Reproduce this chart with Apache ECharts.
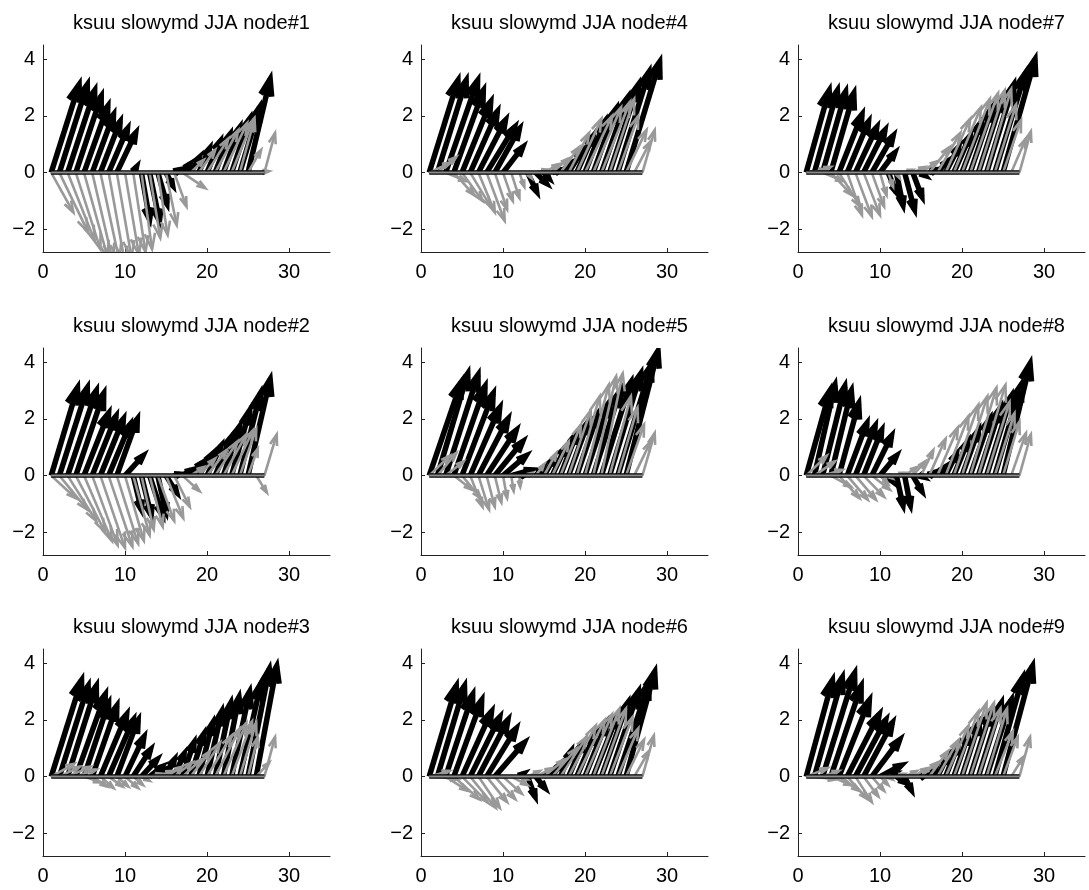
<!DOCTYPE html>
<html>
<head>
<meta charset="utf-8">
<script src="https://cdn.jsdelivr.net/npm/echarts@6/dist/echarts.min.js"></script>
<style>
html, body { margin: 0; padding: 0; background: #fff; }
#chart { width: 1089px; height: 890px; }
</style>
</head>
<body>
<div id="chart"></div>
<script>
// arrow tails sit on y=0 at these positions
var positions = [1,2,3,4,5,6,7,8,9,10,11,12,13,14,15,16,17,18,19,20,21,22,23,24,25,26,27];
var xTicks = [0, 10, 20, 30];
var yTicks = [-2, 0, 2, 4];
var titles = ['ksuu slowymd JJA node#1','ksuu slowymd JJA node#2','ksuu slowymd JJA node#3',
              'ksuu slowymd JJA node#4','ksuu slowymd JJA node#5','ksuu slowymd JJA node#6',
              'ksuu slowymd JJA node#7','ksuu slowymd JJA node#8','ksuu slowymd JJA node#9'];

// node#1
var blackU1 = [3.4,3.4,3.3,3.1,2.9,2.6,2.4,2.3,2.3,0,0.4,1.0,1.2,1.1,0.8,0.6,0.9,1.1,1.3,1.6,1.8,2.0,2.2,2.4,2.7,0,0];
var blackV1 = [3.1,3.1,2.9,2.7,2.35,2.05,1.8,1.55,1.4,0,0.2,-1.65,-1.7,-1.1,-0.45,0.1,0.3,0.55,0.85,1.1,1.35,1.6,1.9,2.3,3.3,0,0];
var grayU1 = [2.7,3.5,3.3,3.0,2.9,2.5,2.3,2.0,1.8,1.7,1.5,1.3,1.3,1.2,1.3,1.5,2.8,1.6,2.0,2.6,2.8,2.9,2.7,1.8,1.6,1.6,1.3];
var grayV1 = [-1.4,-2.1,-2.4,-2.7,-3.0,-3.1,-3.1,-3.2,-3.0,-2.9,-2.8,-2.7,-2.3,-2.2,-1.85,-1.2,-0.55,0.45,0.8,1.2,1.5,1.75,1.9,1.9,0.8,0.05,1.4];
// node#2
var blackU2 = [3.2,3.4,3.5,3.4,3.0,2.9,2.8,2.6,2.5,2.2,1.0,1.2,1.6,1.0,1.3,0.7,1.1,1.4,1.6,1.7,1.9,2.0,2.2,2.5,2.7,0,0];
var blackV2 = [3.1,3.1,3.0,2.9,2.2,2.1,2.0,1.8,2.0,0.7,-1.2,-1.4,-1.4,-1.3,-0.6,0.05,0.2,0.45,0.75,1.05,1.35,1.75,2.3,2.9,3.4,0,0];
var grayU2 = [3.0,3.4,3.5,3.6,3.4,3.1,3.0,2.9,2.6,2.3,2.0,1.5,1.6,2.0,2.1,1.9,2.1,1.6,2.0,2.4,2.7,2.8,2.6,2.0,1.2,1.3,1.5];
var grayV2 = [-0.8,-1.2,-1.6,-2.0,-2.3,-2.45,-2.55,-2.5,-2.4,-2.3,-2.1,-1.9,-1.8,-1.6,-1.5,-1.1,-0.55,0.3,0.6,0.9,1.2,1.45,1.6,1.65,0.95,-0.6,1.45];
// node#3
var blackU3 = [3.7,3.5,3.5,3.6,3.0,3.0,3.2,3.0,2.6,2.3,2.1,1.9,1.5,1.3,1.0,1.2,1.4,1.6,1.7,1.8,1.9,1.9,2.2,2.6,2.6,2.5,0];
var blackV3 = [3.4,3.2,3.2,2.9,2.6,2.5,2.2,2.0,2.0,1.4,0.95,0.6,0.35,0.3,0.6,0.8,1.2,1.5,1.9,2.3,2.6,2.8,3.0,3.3,3.8,3.9,0];
var grayU3 = [2.8,2.5,2.8,2.5,2.0,1.8,1.6,1.7,1.4,1.6,1.2,1.0,1.5,1.8,2.0,2.2,2.3,2.4,2.6,3.0,3.0,2.8,2.5,2.0,1.2,1.6,1.3];
var grayV3 = [0.45,0.35,0.35,0.25,-0.2,-0.35,-0.4,-0.35,-0.35,-0.4,-0.3,-0.15,0.1,0.2,0.35,0.5,0.6,0.9,1.2,1.45,1.7,1.9,1.95,1.9,1.4,0.5,1.4];
// node#4
var blackU4 = [3.5,3.5,3.9,3.6,3.5,3.3,3.3,3.4,3.0,2.4,0,0,1.1,1.3,0.6,1.0,1.3,1.6,2.0,2.4,2.8,3.2,3.5,3.8,4.1,0,0];
var blackV4 = [3.25,3.25,3.25,2.9,2.5,2.15,1.85,1.6,1.55,0.9,0,0,-0.67,-0.38,-0.2,0.1,0.35,0.75,1.3,1.8,2.25,2.65,3.1,3.55,3.9,0,0];
var grayU4 = [2.6,2.3,2.5,2.5,2.5,2.5,2.0,2.2,1.5,1.2,1.0,0.6,0.5,1.5,1.8,2.0,2.3,2.5,3.0,3.3,3.4,3.5,3.0,2.5,2.5,2.0,1.5];
var grayV4 = [0.35,0.55,-0.3,-0.8,-1.0,-1.2,-1.4,-1.7,-1.3,-1.0,-0.9,-0.5,-0.2,0.1,0.3,0.5,0.9,1.4,1.9,2.0,2.3,2.5,2.6,2.0,1.5,1.1,1.5];
// node#5
var blackU5 = [3.9,3.7,3.95,3.8,3.8,3.6,3.6,3.6,3.4,2.8,2.5,0.8,0,0.8,1.2,1.6,2.0,2.4,2.6,3.0,3.3,3.6,3.8,4.1,3.9,0,0];
var blackV5 = [3.3,3.6,3.55,3.15,2.9,2.4,2.0,1.6,1.2,0.7,0.2,0.05,0,0.25,0.6,1.0,1.5,1.9,2.2,2.6,3.0,3.3,3.6,3.9,4.4,0,0];
var grayU5 = [2.5,2.3,2.2,2.2,2.3,1.5,1.3,1.0,0.8,0.5,0.3,0.1,0.6,1.0,1.5,2.0,2.5,2.7,2.8,2.9,2.8,2.6,2.6,2.4,2.2,2.0,1.5];
var grayV5 = [0.7,0.8,0.5,-0.5,-0.8,-1.1,-1.2,-1.1,-0.95,-0.8,-0.55,-0.4,0.1,0.4,0.8,1.2,1.8,2.3,2.8,3.2,3.5,3.6,2.8,2.4,1.8,1.2,1.5];
// node#6
var blackU6 = [3.3,3.3,3.3,3.4,3.6,3.6,3.6,3.6,3.6,0,0,0.5,0.9,1.1,1.0,1.0,1.3,1.8,2.2,2.6,3.0,3.2,3.5,3.8,3.5,0,0];
var blackV6 = [3.2,3.2,2.9,2.7,2.3,2.1,2.0,1.7,1.2,0,0,0.1,-0.7,-0.4,0.2,0.45,0.9,1.2,1.5,1.9,2.2,2.6,3.0,3.3,3.7,0,0];
var grayU6 = [2.5,2.5,2.7,3.1,3.1,3.1,2.6,2.5,2.5,2.3,2.0,1.0,1.5,2.0,2.5,3.0,3.2,3.3,3.4,3.3,3.2,3.0,2.8,2.5,2.2,1.8,1.4];
var grayV6 = [0.2,-0.1,-0.5,-0.8,-0.9,-1.1,-1.1,-0.9,-0.8,-0.6,-0.3,-0.1,0.2,0.3,0.6,1.0,1.4,1.8,2.0,2.2,2.4,2.4,2.1,1.7,1.3,0.9,1.45];
// node#7
var blackU7 = [2.8,2.8,2.8,2.8,2.8,2.6,2.6,2.6,2.6,1.8,1.0,0.8,1.2,1.1,0.5,0.8,1.2,1.6,2.0,2.4,2.7,3.0,3.3,3.7,3.9,0,0];
var blackV7 = [2.9,2.9,2.85,2.8,2.05,1.8,1.6,1.5,1.3,0.7,-0.7,-1.15,-1.3,-0.85,-0.1,0.1,0.4,0.9,1.3,1.8,2.3,2.7,3.1,3.5,4.0,0,0];
var grayU7 = [2.5,2.0,2.5,2.6,2.6,1.8,2.0,2.0,1.5,0.8,0.6,0.4,1.0,1.5,2.0,2.5,2.8,3.0,3.3,3.4,3.4,3.2,3.0,2.6,2.2,1.8,1.4];
var grayV7 = [0.1,0.2,-0.3,-0.8,-1.2,-1.5,-1.55,-1.5,-1.2,-0.8,-0.5,-0.2,0.1,0.2,0.4,0.9,1.4,1.9,2.3,2.6,2.8,2.9,2.95,2.4,1.85,1.2,1.45];
// node#8
var blackU8 = [2.9,2.5,2.7,2.5,2.4,2.4,2.4,2.2,2.4,2.0,0.5,0.8,0.7,1.1,0.3,0.5,0.9,1.3,1.7,2.0,2.4,2.7,3.0,3.2,3.3,0,0];
var blackV8 = [3.0,3.2,3.15,3.0,2.55,1.85,1.75,1.6,1.4,0.7,-0.2,-1.05,-1.05,-0.55,-0.05,0.1,0.3,0.75,1.2,1.6,2.0,2.4,2.8,3.2,3.95,0,0];
var grayU8 = [2.5,2.5,2.4,2.5,2.5,2.5,2.5,2.5,2.2,1.0,0.5,1.0,1.5,1.5,1.5,2.0,2.5,2.8,3.0,3.1,3.2,3.3,2.8,2.4,2.0,1.8,1.4];
var grayV8 = [0.7,0.5,0.2,-0.4,-0.8,-0.85,-0.85,-0.75,-0.5,-0.3,-0.1,0.1,0.3,0.5,0.9,1.3,1.7,2.1,2.5,2.8,3.1,3.2,2.6,2.2,1.9,1.5,1.45];
// node#9
var blackU9 = [3.2,3.4,3.9,3.7,3.7,3.9,3.7,3.5,3.4,2.6,0.8,1.0,0.8,0,0.5,0.8,1.2,1.5,1.8,2.1,2.5,2.8,3.0,3.4,3.6,0,0];
var blackV9 = [3.4,3.5,3.65,3.2,2.7,2.2,2.0,1.9,1.3,0.4,0.1,-0.2,-0.47,0,0.05,0.3,0.7,1.1,1.5,1.9,2.3,2.6,2.7,3.5,3.9,0,0];
var grayU9 = [2.6,2.6,2.0,2.5,2.5,2.5,2.0,1.8,1.5,1.0,0.5,1.0,1.5,1.8,2.0,2.3,2.6,2.8,3.0,3.0,2.9,2.7,2.5,2.2,1.8,1.5,1.3];
var grayV9 = [0.3,-0.1,0.2,-0.3,-0.5,-0.8,-0.9,-0.7,-0.5,-0.3,-0.1,0.1,0.2,0.3,0.5,0.9,1.3,1.8,2.3,2.6,2.6,2.4,2.4,1.6,1.4,0.7,1.4];

var blackU = [blackU1, blackU2, blackU3, blackU4, blackU5, blackU6, blackU7, blackU8, blackU9];
var blackV = [blackV1, blackV2, blackV3, blackV4, blackV5, blackV6, blackV7, blackV8, blackV9];
var grayU = [grayU1, grayU2, grayU3, grayU4, grayU5, grayU6, grayU7, grayU8, grayU9];
var grayV = [grayV1, grayV2, grayV3, grayV4, grayV5, grayV6, grayV7, grayV8, grayV9];

var colLeft = [43, 421, 798];
var rowTop = [45, 348, 649];
var FONT = 'Liberation Sans, Arial, Helvetica, sans-serif';

function minusLabel(v) {
	return v < 0 ? '\u2212' + (-v) : String(v);
}

// quiver arrow, MATLAB style: shaft plus open head
function quiverItem(lineWidth, color) {
	return function(params, api) {
		var x = api.value(0), u = api.value(1), v = api.value(2);
		if (u === 0 && v === 0) return;
		var p0 = api.coord([x, 0]);
		var p1 = api.coord([x + u, v]);
		var dx = p1[0] - p0[0], dy = p1[1] - p0[1];
		var len = Math.sqrt(dx * dx + dy * dy);
		var ux = dx / len, uy = dy / len;
		var hl = Math.min(0.14 * len + 5, 17);
		var hw = hl * 0.33;
		var bx = p1[0] - ux * hl, by = p1[1] - uy * hl;
		var cs = params.coordSys;
		var st = { stroke: color, lineWidth: lineWidth, fill: 'none', lineJoin: 'miter' };
		return {
			type: 'group',
			clipPath: { type: 'rect', shape: { x: cs.x, y: cs.y, width: cs.width, height: cs.height } },
			children: [
				{ type: 'polyline', shape: { points: [p0, p1] }, style: st },
				{ type: 'polyline', shape: { points: [[bx - uy * hw, by + ux * hw], p1, [bx + uy * hw, by - ux * hw]] }, style: st }
			]
		};
	};
}

var grids = [], xAxes = [], yAxes = [], titleList = [], series = [];
for (var n = 0; n < 9; n++) {
	var col = Math.floor(n / 3), row = n % 3;
	grids.push({ left: colLeft[col], top: rowTop[row], width: 287, height: 207 });
	titleList.push({
		text: titles[n],
		left: colLeft[col] + 143.5,
		top: rowTop[row] - 37,
		textAlign: 'center',
		textStyle: { fontFamily: FONT, fontSize: 20, fontWeight: 'normal', color: '#000' }
	});
	xAxes.push({
		type: 'value', gridIndex: n, min: 0, max: 35,
		axisLine: { onZero: false, lineStyle: { color: '#222', width: 1 } },
		axisTick: { inside: true, length: 4, customValues: xTicks, lineStyle: { color: '#222' } },
		axisLabel: { customValues: xTicks, margin: 10, fontFamily: FONT, fontSize: 20, color: '#000' },
		splitLine: { show: false }
	});
	yAxes.push({
		type: 'value', gridIndex: n, min: -2.8, max: 4.5,
		axisLine: { show: true, onZero: false, lineStyle: { color: '#222', width: 1 } },
		axisTick: { show: true, inside: true, length: 4, customValues: yTicks, lineStyle: { color: '#222' } },
		axisLabel: { customValues: yTicks, margin: 8, fontFamily: FONT, fontSize: 20, color: '#000', formatter: minusLabel },
		splitLine: { show: false }
	});

	var blackData = [], grayData = [];
	for (var i = 0; i < positions.length; i++) {
		blackData.push([positions[i], blackU[n][i], blackV[n][i]]);
		grayData.push([positions[i], grayU[n][i], grayV[n][i]]);
	}
	series.push({
		type: 'custom', xAxisIndex: n, yAxisIndex: n,
		dimensions: ['x', 'u', 'v'], encode: { x: 0, y: 2 },
		renderItem: quiverItem(5.5, '#000'), data: blackData, silent: true
	});
	series.push({
		type: 'custom', xAxisIndex: n, yAxisIndex: n,
		dimensions: ['x', 'u', 'v'], encode: { x: 0, y: 2 },
		renderItem: quiverItem(2.6, '#999'), data: grayData, silent: true
	});
	// base line through the arrow tails
	var base = [[positions[0], 0], [positions[positions.length - 1], 0]];
	series.push({
		type: 'line', xAxisIndex: n, yAxisIndex: n, data: base, symbol: 'none', silent: true,
		lineStyle: { color: '#000', width: 4.5 }
	});
	series.push({
		type: 'line', xAxisIndex: n, yAxisIndex: n, data: base, symbol: 'none', silent: true,
		lineStyle: { color: '#8c8c8c', width: 2 }
	});
}

var chart = echarts.init(document.getElementById('chart'));
chart.setOption({
	backgroundColor: '#fff',
	animation: false,
	title: titleList,
	grid: grids,
	xAxis: xAxes,
	yAxis: yAxes,
	series: series
});
</script>
</body>
</html>
